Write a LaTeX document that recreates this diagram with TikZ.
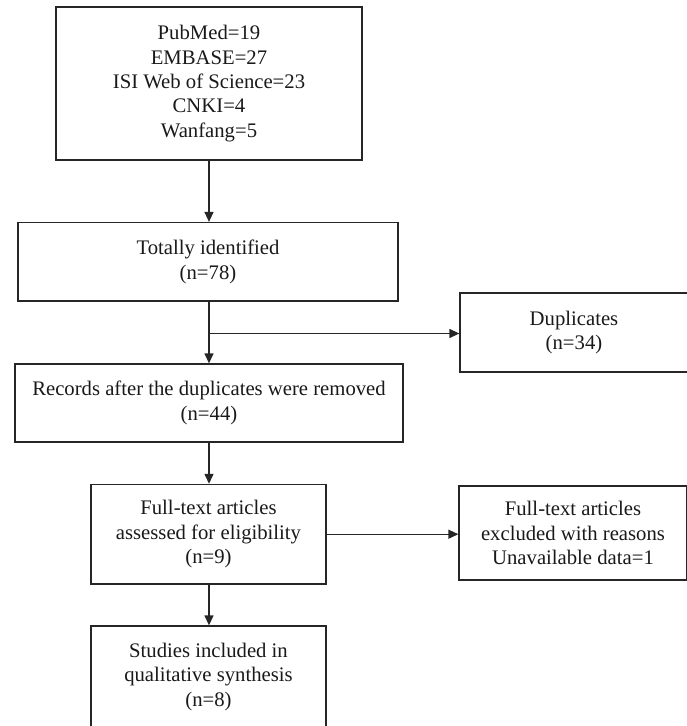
\documentclass[tikz,border=0pt]{standalone}
\usepackage{fontspec}
\setmainfont{Liberation Serif}
\usetikzlibrary{arrows.meta}
\tikzset{
  box/.style={draw=black!85, line width=1.3pt, rectangle, align=center, inner sep=0pt,
    font=\fontsize{20.7}{24.4}\selectfont, text=black!90},
  conn/.style={draw=black!85, line width=1.3pt, -{Triangle[width=9pt,length=10pt]}},
  plain/.style={draw=black!85, line width=1.3pt}
}
\begin{document}
\begin{tikzpicture}[x=1pt,y=-1pt]
\useasboundingbox (0,0) rectangle (686,726);
\node[box, minimum width=306pt, minimum height=153pt] (b1) at (209,83.5)
  {PubMed=19\\EMBASE=27\\ISI Web of Science=23\\CNKI=4\\Wanfang=5};
\node[box, minimum width=380pt, minimum height=78.5pt] (b2) at (208,261.8)
  {Totally identified\\(n=78)};
\node[box, minimum width=228pt, minimum height=79pt] (dup) at (574,332.5)
  {Duplicates\\(n=34)};
\node[box, minimum width=388pt, minimum height=78pt] (b3) at (209,403)
  {Records after the duplicates were removed\\(n=44)};
\node[box, minimum width=235pt, minimum height=99.5pt] (b4) at (208.5,534.2)
  {Full-text articles\\assessed for eligibility\\(n=9)};
\node[box, minimum width=228pt, minimum height=94pt] (b5) at (573,533)
  {Full-text articles\\excluded with reasons\\Unavailable data=1};
\node[box, minimum width=235pt, minimum height=102pt] (b6) at (208.5,677)
  {Studies included in\\qualitative synthesis\\(n=8)};
\coordinate (br) at (209,333.5);
\draw[conn] (b1.south -| br) -- (b2.north -| br);
\draw[conn] (b2.south -| br) -- (b3.north -| br);
\draw[conn] (br) -- (br -| dup.west);
\draw[conn] (b3.south -| br) -- (b4.north -| br);
\draw[conn] (b4.east) -- (b4.east -| b5.west);
\draw[conn] (b4.south -| br) -- (b6.north -| br);
\end{tikzpicture}
\end{document}
